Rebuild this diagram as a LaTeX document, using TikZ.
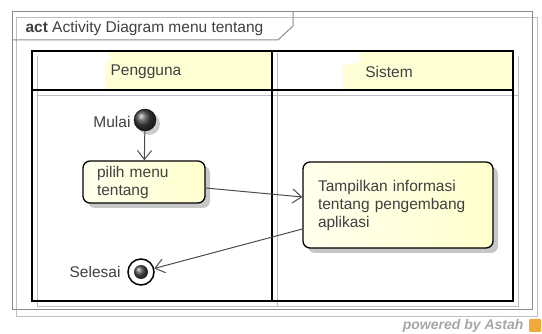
\documentclass[tikz,border=0pt]{standalone}
\usepackage{fontspec}
\setmainfont{Liberation Sans}
\usetikzlibrary{arrows.meta,shadows}
\begin{document}
\begin{tikzpicture}[x=1pt,y=-1pt,
  every node/.style={font=\fontsize{15.5}{18}\selectfont,text=black!75},
  action/.style={shape=rectangle,rounded corners=7pt,draw=black,line width=1.3pt,left color=actfill!35,right color=actfill,drop shadow={shadow xshift=5pt,shadow yshift=-5pt,fill=black!22,opacity=1},align=left},
  flow/.style={draw=black!70,line width=1pt,-{Straight Barb[length=9pt,width=14pt,line width=1pt]}},
  lane/.style={draw=black,line width=1.3pt},
  ghost/.style={draw=black!25,line width=0.8pt},
  frameline/.style={draw=black!45,line width=1pt}]
\definecolor{hdrfill}{RGB}{255,255,214}
\definecolor{actfill}{RGB}{255,255,205}
\definecolor{astahorange}{RGB}{240,170,60}
\useasboundingbox (0,0) rectangle (542,334);
% frame
\draw[ghost] (16,17) rectangle (537,316);
\draw[frameline] (12,12) rectangle (532,310);
\draw[frameline] (12,40) -- (278,40) -- (293,26) -- (293,12);
\node[anchor=west] (title) at (22,28) {\textbf{act} Activity Diagram menu tentang};
% partition headers
\fill[hdrfill] (110,52) -- (272,52) -- (272,90) -- (105,90) -- (105,64) -- (110,60) -- cycle;
\fill[hdrfill] (360,52) -- (513,52) -- (513,90) -- (343,90) -- (343,66) -- (360,62) -- cycle;
\draw[ghost] (37,56) -- (37,306) -- (518,306) -- (518,56);
\draw[ghost] (277,53) -- (277,306);
\draw[ghost] (37,95) -- (518,95);
\draw[lane] (32,51) rectangle (513,301);
\draw[lane] (32,90) -- (513,90);
\draw[lane] (272,51) -- (272,301);
\node (pengguna) at (146,72) {Pengguna};
\node (sistem) at (389,72) {Sistem};
% nodes
\node[shape=circle,draw=black,minimum size=22pt,inner sep=0pt,ball color=black!75,drop shadow={shadow xshift=4pt,shadow yshift=-4pt,fill=black!20,opacity=1}] (mulai) at (145,120) {};
\node[anchor=east] (mulailbl) at (134,122) {Mulai};
\node[action,minimum width=122pt,minimum height=42pt,inner xsep=14pt,text width=94pt] (pilih) at (144,182) {pilih menu\\tentang};
\node[action,minimum width=190pt,minimum height=86pt,inner xsep=15pt,text width=160pt] (tampil) at (398,205) {Tampilkan informasi\\tentang pengembang\\aplikasi};
\node[shape=circle,draw=black,line width=1.5pt,minimum size=26pt,inner sep=0pt,fill=white] (selesai) at (141,272) {};
\node[shape=circle,minimum size=14pt,inner sep=0pt,ball color=black!70] (selesaiin) at (selesai) {};
\node[anchor=east] (selesailbl) at (124,272) {Selesai};
% flows
\draw[flow] (mulai) -- (pilih);
\draw[flow] ([yshift=-6pt]pilih.east) -- ([yshift=8pt]tampil.west);
\draw[flow] ([yshift=-24pt]tampil.west) -- (selesai);
% footer
\node[anchor=east,font=\fontsize{14}{16}\selectfont\bfseries\itshape,text=black!35] (powered) at (527,326) {powered by Astah};
\fill[astahorange,rounded corners=1pt] (529,319) rectangle (541,332);
\end{tikzpicture}
\end{document}
